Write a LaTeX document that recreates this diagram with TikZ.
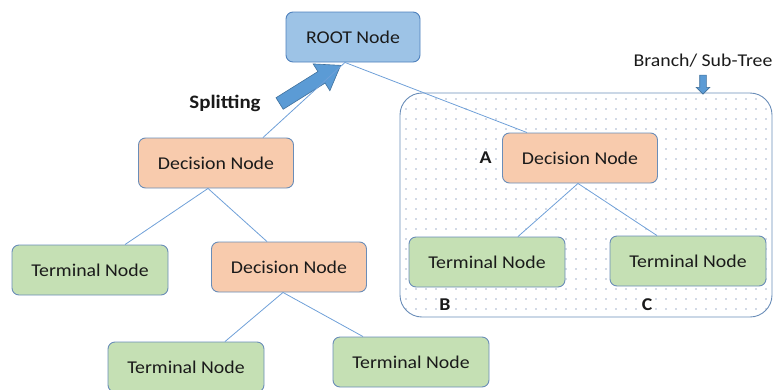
\documentclass[tikz,border=0pt]{standalone}
\usepackage{fontspec}
\setmainfont[FakeStretch=1.1]{Carlito}
\usetikzlibrary{positioning,shapes.arrows}
\definecolor{rootfill}{HTML}{9DC3E6}
\definecolor{rootline}{HTML}{4F81BD}
\definecolor{decfill}{HTML}{F8CBAD}
\definecolor{termfill}{HTML}{C5E0B4}
\definecolor{nodeline}{HTML}{6A8DB8}
\definecolor{linkc}{HTML}{6FA0D8}
\definecolor{arrowfill}{HTML}{5B9BD5}
\definecolor{arrowline}{HTML}{41719C}
\definecolor{dotc}{HTML}{A6B5CC}
\definecolor{txt}{HTML}{1A1A1A}

\begin{document}
\begin{tikzpicture}
                [x=1pt,y=-1pt,
                box/.style={rectangle,rounded corners=7pt,draw=nodeline,line width=0.9pt,
                    minimum width=155pt,minimum height=50pt,text=txt,
                    font=\fontsize{18}{20}\selectfont},
                rootbox/.style={box,fill=rootfill,draw=rootline,minimum width=134pt},
                decbox/.style={box,fill=decfill},
                termbox/.style={box,fill=termfill,minimum width=156pt},
                lbl/.style={text=txt,font=\fontsize{18}{20}\selectfont\bfseries},
                link/.style={draw=linkc,line width=0.8pt},
                fat/.style={single arrow,fill=arrowfill,draw=arrowline,line width=0.6pt}]
                \useasboundingbox (0,0) rectangle (774,389);
                % sub-tree frame with dotted background
                \begin{scope}
                    \clip[rounded corners=22pt] (400,93) rectangle (772,317);
                    \foreach \x in {406,416,...,770}
                        \foreach \y in {99,109,...,315}
                            \fill[dotc] (\x,\y) circle (0.85);
                \end{scope}
                \draw[draw=nodeline,line width=0.9pt,rounded corners=22pt] (400,93) rectangle (772,317);
                % tree
                \node[rootbox] (root) at (353,37) {ROOT Node};
                \node[decbox] (dec1) at (216,163) {Decision Node};
                \node[termbox] (term1) at (90,270) {Terminal Node};
                \node[decbox] (dec2) at (289,267) {Decision Node};
                \node[termbox] (term2) at (186,367) {Terminal Node};
                \node[termbox] (term3) at (411,362) {Terminal Node};
                \node[decbox] (decA) at (580,158) {Decision Node};
                \node[termbox] (termB) at (487,262) {Terminal Node};
                \node[termbox] (termC) at (688,261) {Terminal Node};
                % labels
                \node[lbl,node distance=7pt] (textA)[left=of decA]{A};
                \node[lbl] (textB) at (445,305) {B};
                \node[lbl] (textC) at (647,305) {C};
                \node[lbl,font=\fontsize{19}{21}\selectfont\bfseries] (textsplit) at (225,103) {Splitting};
                \node[text=txt,font=\fontsize{18}{20}\selectfont] (textbranch) at (703,61) {Branch/ Sub-Tree};
                % arrows
                \node[fat,inner sep=6.5pt,minimum height=72pt,single arrow head extend=9pt,
                    single arrow tip angle=70,rotate=32] (splitarrow) at (306,87) {};
                \node[fat,inner sep=3pt,minimum height=19pt,single arrow head extend=3.5pt,
                    rotate=-90] (brancharrow) at (703,83) {};
                % connectors
                \path ([xshift=-8pt]root.south) edge[link] ([xshift=47pt]dec1.north)
                                                edge[link] ([xshift=-53pt]decA.north)
                      ([xshift=-8pt]dec1.south) edge[link] ([xshift=35pt]term1.north)
                                                edge[link] ([xshift=-22pt]dec2.north)
                      ([xshift=-6pt]dec2.south) edge[link] ([xshift=39pt]term2.north)
                                                edge[link] ([xshift=-48pt]term3.north)
                      ([xshift=-2pt]decA.south) edge[link] ([xshift=31pt]termB.north)
                                                edge[link] ([xshift=-31pt]termC.north);
            \end{tikzpicture}
\end{document}
